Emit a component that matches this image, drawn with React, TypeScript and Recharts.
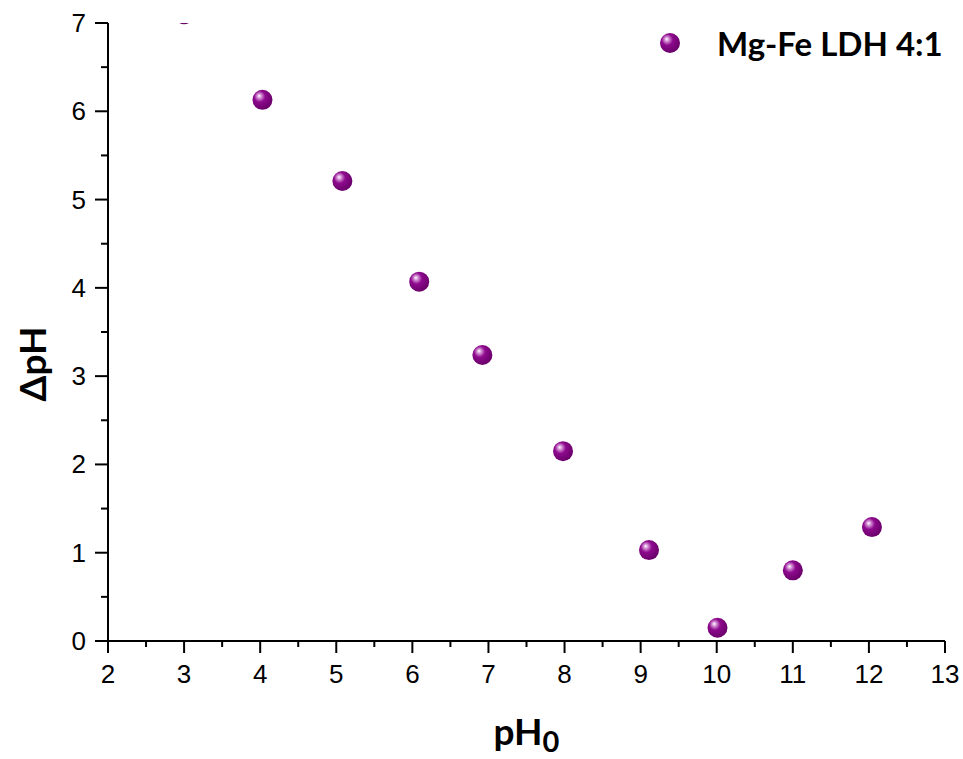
import { ScatterChart, Scatter, XAxis, YAxis, Label } from "recharts";

// pH0 and ΔpH
const ph0 = [3.0, 4.03, 5.08, 6.09, 6.92, 7.98, 9.11, 10.01, 11.0, 12.04];
const deltaPh = [7.1, 6.13, 5.21, 4.07, 3.24, 2.15, 1.03, 0.15, 0.8, 1.29];

const xTicks = [2, 3, 4, 5, 6, 7, 8, 9, 10, 11, 12, 13];
const xMinor = [2.5, 3.5, 4.5, 5.5, 6.5, 7.5, 8.5, 9.5, 10.5, 11.5, 12.5];
const yTicks = [0, 1, 2, 3, 4, 5, 6, 7];
const yMinor = [0.5, 1.5, 2.5, 3.5, 4.5, 5.5, 6.5];

const seriesName = "Mg-Fe LDH 4:1";

const data = ph0.map((x, i) => ({ x, y: deltaPh[i] }));
const xAll = [...xTicks, ...xMinor].sort((a, b) => a - b);
const yAll = [...yTicks, ...yMinor].sort((a, b) => a - b);

const tickFamily = "'Liberation Sans', Arial, sans-serif";
const titleFont = "Lato, 'Open Sans', sans-serif";

const Ball = (props: any) => {
  const { cx, cy } = props;
  if (cx == null || cy == null) return null;
  return <circle cx={cx} cy={cy} r={10} fill="url(#ballGrad)" />;
};

const Grad = ({ id }: { id: string }) => (
  <radialGradient id={id} cx="40%" cy="38%" r="62%" fx="33%" fy="30%">
    <stop offset="0%" stopColor="#ffffff" />
    <stop offset="18%" stopColor="#d48fd4" />
    <stop offset="45%" stopColor="#8e0a8e" />
    <stop offset="100%" stopColor="#6a006a" />
  </radialGradient>
);

// tick mark + label drawn together; minor ticks get a short mark and no label
const XTick = (props: any) => {
  const { x, y, payload } = props;
  const major = xTicks.includes(payload.value);
  return (
    <g>
      <line x1={x} x2={x} y1={y} y2={y + (major ? 12 : 6)} stroke="#000" strokeWidth={2} />
      {major && (
        <text x={x} y={y + 42} textAnchor="middle" fontFamily={tickFamily} fontSize={26} fill="#000">
          {payload.value}
        </text>
      )}
    </g>
  );
};

const YTick = (props: any) => {
  const { x, y, payload } = props;
  const major = yTicks.includes(payload.value);
  return (
    <g>
      <line x1={x} x2={x - (major ? 13 : 7)} y1={y} y2={y} stroke="#000" strokeWidth={2} />
      {major && (
        <text x={x - 22} y={y + 9} textAnchor="end" fontFamily={tickFamily} fontSize={26} fill="#000">
          {payload.value}
        </text>
      )}
    </g>
  );
};

const XTitle = (props: any) => {
  const { viewBox } = props;
  const cx = viewBox.x + viewBox.width / 2;
  return (
    <text x={cx} y={745} textAnchor="middle" fontFamily={titleFont} fontWeight={700} fontSize={37} fill="#000">
      pH<tspan fontSize={29} dy={7}>0</tspan>
    </text>
  );
};

const YTitle = () => (
  <text
    x={31}
    y={364}
    transform="rotate(-90 31 364)"
    textAnchor="middle"
    dominantBaseline="central"
    fontFamily={titleFont}
    fontWeight={700}
    fontSize={37}
    fill="#000"
  >
    ΔpH
  </text>
);

export default function App() {
  return (
    <div style={{ position: "absolute", left: 0, top: 0, width: 963, height: 759, background: "#fff" }}>
      <ScatterChart width={963} height={759} margin={{ top: 23, right: 18, bottom: 0, left: 0 }}>
        <defs>
          <Grad id="ballGrad" />
        </defs>
        <XAxis
          type="number"
          dataKey="x"
          domain={[2, 13]}
          ticks={xAll}
          interval={0}
          tickSize={0}
          tickMargin={0}
          tick={<XTick />}
          axisLine={{ stroke: "#000", strokeWidth: 2 }}
          tickLine={false}
          height={118}
          allowDataOverflow
        >
          <Label content={<XTitle />} />
        </XAxis>
        <YAxis
          type="number"
          dataKey="y"
          domain={[0, 7]}
          ticks={yAll}
          interval={0}
          tickSize={0}
          tickMargin={0}
          tick={<YTick />}
          axisLine={{ stroke: "#000", strokeWidth: 2 }}
          tickLine={false}
          width={108}
          allowDataOverflow
        >
          <Label content={<YTitle />} />
        </YAxis>
        <Scatter name={seriesName} data={data} shape={<Ball />} isAnimationActive={false} />
      </ScatterChart>
      <div style={{ position: "absolute", left: 659, top: 22, display: "flex", alignItems: "center" }}>
        <svg width={22} height={22} style={{ marginRight: 36 }}>
          <defs>
            <Grad id="ballGradL" />
          </defs>
          <circle cx={11} cy={11} r={10} fill="url(#ballGradL)" />
        </svg>
        <span style={{ fontFamily: titleFont, fontWeight: 700, fontSize: 33, color: "#000", lineHeight: "42px" }}>
          {seriesName}
        </span>
      </div>
    </div>
  );
}
